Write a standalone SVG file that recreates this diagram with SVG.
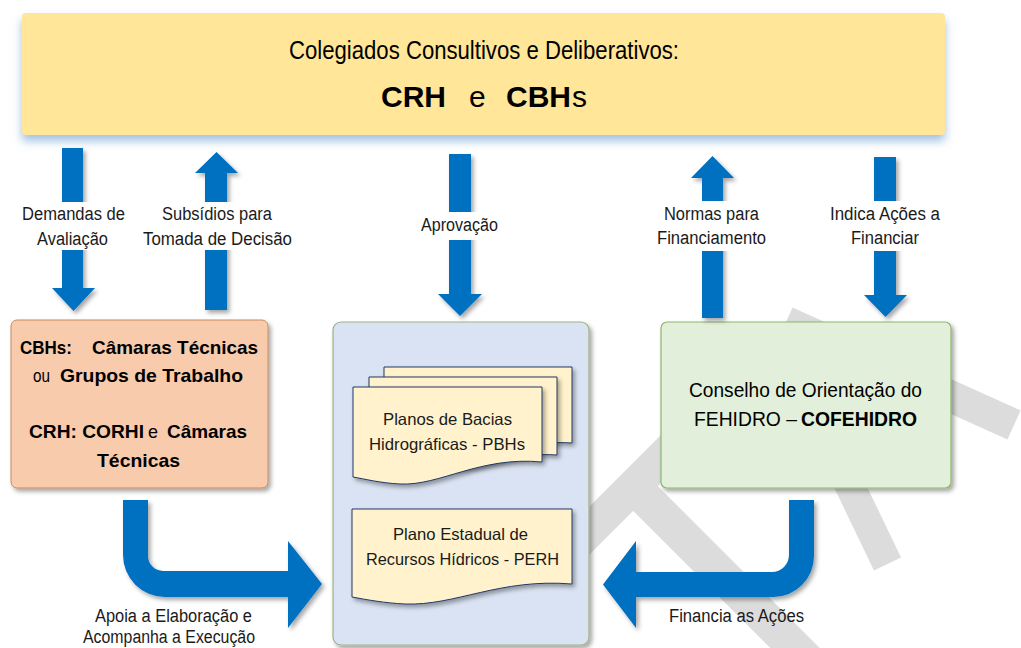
<svg xmlns="http://www.w3.org/2000/svg" width="1021" height="648" viewBox="0 0 1021 648">
<defs>
  <filter id="sh" x="-20%" y="-20%" width="140%" height="140%">
    <feDropShadow dx="2.5" dy="3" stdDeviation="2" flood-color="#000" flood-opacity="0.35"/>
  </filter>
  <filter id="glow" x="-5%" y="-20%" width="110%" height="150%">
    <feDropShadow dx="0" dy="6" stdDeviation="5" flood-color="#8fb6de" flood-opacity="0.85"/>
  </filter>
  <style>
    .wm{stroke:#dcdcdc;fill:none;stroke-linecap:butt}
    .arrow{fill:#0070C0;filter:url(#sh)}
    .lbl{font-family:"Liberation Sans",Arial,sans-serif;font-size:18px;fill:#1a1a1a}
    .doc{font-family:"Liberation Sans",Arial,sans-serif;font-size:16.5px;fill:#1a1a1a}
    .bx{font-family:"Liberation Sans",Arial,sans-serif;font-size:19px;fill:#000}
    .b{font-weight:bold}
    .docshape{fill:#FFF2CC;stroke:#203864;stroke-width:1;filter:url(#sh)}
  </style>
</defs>
<rect width="1021" height="648" fill="#ffffff"/>

<g id="watermark">
  <line class="wm" x1="786" y1="322" x2="1014" y2="425" stroke-width="32"/>
  <line class="wm" x1="801" y1="384" x2="887.5" y2="564" stroke-width="30"/>
  <line class="wm" x1="520" y1="600" x2="730" y2="390" stroke-width="34"/>
  <line class="wm" x1="633.5" y1="486.5" x2="850" y2="703" stroke-width="35"/>
</g>

<g id="node-top">
  <rect x="22" y="13" width="923" height="122" rx="4" fill="#FFE699" filter="url(#glow)"/>
  <text x="289" y="59" font-family="'Liberation Sans',Arial,sans-serif" font-size="26" textLength="390" lengthAdjust="spacingAndGlyphs" fill="#000">Colegiados Consultivos e Deliberativos:</text>
  <text y="107" font-family="'Liberation Sans',Arial,sans-serif" font-size="30" fill="#000"><tspan x="381" font-weight="bold">CRH</tspan><tspan x="469">e</tspan><tspan x="506" font-weight="bold">CBH</tspan><tspan x="572">s</tspan></text>
</g>

<g id="node-camaras">
  <rect x="11" y="320" width="257" height="168" rx="6" fill="#F8CBAD" stroke="#C68A5E" stroke-width="1" filter="url(#sh)"/>
  <text class="bx b" x="20" y="354" textLength="52" lengthAdjust="spacingAndGlyphs">CBHs:</text>
  <text class="bx b" x="92" y="354" textLength="166" lengthAdjust="spacingAndGlyphs">Câmaras Técnicas</text>
  <text class="bx" x="33" y="382" textLength="17" lengthAdjust="spacingAndGlyphs">ou</text>
  <text class="bx b" x="60" y="382" textLength="183" lengthAdjust="spacingAndGlyphs">Grupos de Trabalho</text>
  <text class="bx b" x="29" y="438" textLength="115" lengthAdjust="spacingAndGlyphs">CRH: CORHI</text>
  <text class="bx" x="148" y="438" textLength="10" lengthAdjust="spacingAndGlyphs">e</text>
  <text class="bx b" x="167" y="438" textLength="80" lengthAdjust="spacingAndGlyphs">Câmaras</text>
  <text class="bx b" x="97" y="467" textLength="83" lengthAdjust="spacingAndGlyphs">Técnicas</text>
</g>

<g id="node-planos">
  <rect x="333" y="322" width="256" height="323" rx="8" fill="#DAE3F3" stroke="#9DB383" stroke-width="1.2" filter="url(#sh)"/>
  <g id="doc-pbh">
    <path class="docshape" d="M384,367 H572 V443 C530,440 500,456 470,456 L384,456 Z"/>
    <path class="docshape" d="M369,377 H557 V455 C515,452 485,468 455,468 L369,468 Z"/>
    <path class="docshape" d="M353,387 H542 V462 C480,456 440,486 400,484 C380,483 365,479 353,477 Z"/>
    <text class="doc" x="383" y="425" textLength="129" lengthAdjust="spacingAndGlyphs">Planos de Bacias</text>
    <text class="doc" x="369" y="450" textLength="156" lengthAdjust="spacingAndGlyphs">Hidrográficas - PBHs</text>
  </g>
  <g id="doc-perh">
    <path class="docshape" d="M352,509 H572 V584 C500,578 455,606 405,604 C385,603 368,600 352,597 Z"/>
    <text class="doc" x="393" y="540" textLength="135" lengthAdjust="spacingAndGlyphs">Plano Estadual de</text>
    <text class="doc" x="366" y="565" textLength="193" lengthAdjust="spacingAndGlyphs">Recursos Hídricos - PERH</text>
  </g>
</g>

<g id="node-cofehidro">
  <rect x="661" y="322" width="290" height="166" rx="6" fill="#E2EFDA" stroke="#8DB56B" stroke-width="1.2" filter="url(#sh)"/>
  <text x="689" y="397" font-family="'Liberation Sans',Arial,sans-serif" font-size="21" fill="#000" textLength="233" lengthAdjust="spacingAndGlyphs">Conselho de Orientação do</text>
  <text x="694" y="426" font-family="'Liberation Sans',Arial,sans-serif" font-size="21" fill="#000" textLength="103" lengthAdjust="spacingAndGlyphs">FEHIDRO –</text>
  <text x="801" y="426" font-family="'Liberation Sans',Arial,sans-serif" font-size="21" font-weight="bold" fill="#000" textLength="116" lengthAdjust="spacingAndGlyphs">COFEHIDRO</text>
</g>

<g id="connectors">
  <!-- Demandas de Avaliação (down) -->
  <polygon class="arrow" points="62,148 83,148 83,288 95,288 73.5,311 52,288 62,288"/>
  <!-- Subsídios para Tomada de Decisão (up) -->
  <polygon class="arrow" points="205,310 227,310 227,173 238,173 216.5,152 195,173 205,173"/>
  <!-- Aprovação (down) -->
  <polygon class="arrow" points="449,154 471,154 471,294 482,294 460,316 438,294 449,294"/>
  <!-- Normas para Financiamento (up) -->
  <polygon class="arrow" points="702,318 723,318 723,178 734,178 712.5,156 691,178 702,178"/>
  <!-- Indica Ações a Financiar (down) -->
  <polygon class="arrow" points="874,157 896,157 896,295 907,295 885.5,317 864,295 874,295"/>
  <!-- Apoia a Elaboração (bent right) -->
  <path class="arrow" d="M123,500 H148 V556 A15,15 0 0 0 163,571 H288 V541 L322,584 L288,628 V597 H165 A42,42 0 0 1 123,555 Z"/>
  <!-- Financia as Ações (bent left) -->
  <path class="arrow" d="M789,500 H814 V556 A41,41 0 0 1 773,597 H636 V628 L603,584.5 L636,541 V572 H772 A17,17 0 0 0 789,555 Z"/>

  <g id="labels">
    <rect x="18" y="202" width="112" height="48" fill="#fff"/>
    <rect x="140" y="202" width="156" height="48" fill="#fff"/>
    <rect x="416" y="212" width="86" height="28" fill="#fff"/>
    <rect x="654" y="201" width="116" height="50" fill="#fff"/>
    <rect x="826" y="201" width="118" height="50" fill="#fff"/>
    <text class="lbl" x="22" y="220" textLength="103" lengthAdjust="spacingAndGlyphs">Demandas de</text>
    <text class="lbl" x="37" y="245" textLength="71" lengthAdjust="spacingAndGlyphs">Avaliação</text>
    <text class="lbl" x="162" y="220" textLength="110" lengthAdjust="spacingAndGlyphs">Subsídios para</text>
    <text class="lbl" x="143" y="245" textLength="149" lengthAdjust="spacingAndGlyphs">Tomada de Decisão</text>
    <text class="lbl" x="421" y="231" textLength="77" lengthAdjust="spacingAndGlyphs">Aprovação</text>
    <text class="lbl" x="664" y="220" textLength="95" lengthAdjust="spacingAndGlyphs">Normas para</text>
    <text class="lbl" x="657" y="244" textLength="109" lengthAdjust="spacingAndGlyphs">Financiamento</text>
    <text class="lbl" x="830" y="220" textLength="110" lengthAdjust="spacingAndGlyphs">Indica Ações a</text>
    <text class="lbl" x="851" y="244" textLength="68" lengthAdjust="spacingAndGlyphs">Financiar</text>
    <text class="lbl" x="95" y="622" textLength="157" lengthAdjust="spacingAndGlyphs">Apoia a Elaboração e</text>
    <text class="lbl" x="83" y="643" textLength="172" lengthAdjust="spacingAndGlyphs">Acompanha a Execução</text>
    <text class="lbl" x="669" y="622" textLength="135" lengthAdjust="spacingAndGlyphs">Financia as Ações</text>
  </g>
</g>
</svg>
